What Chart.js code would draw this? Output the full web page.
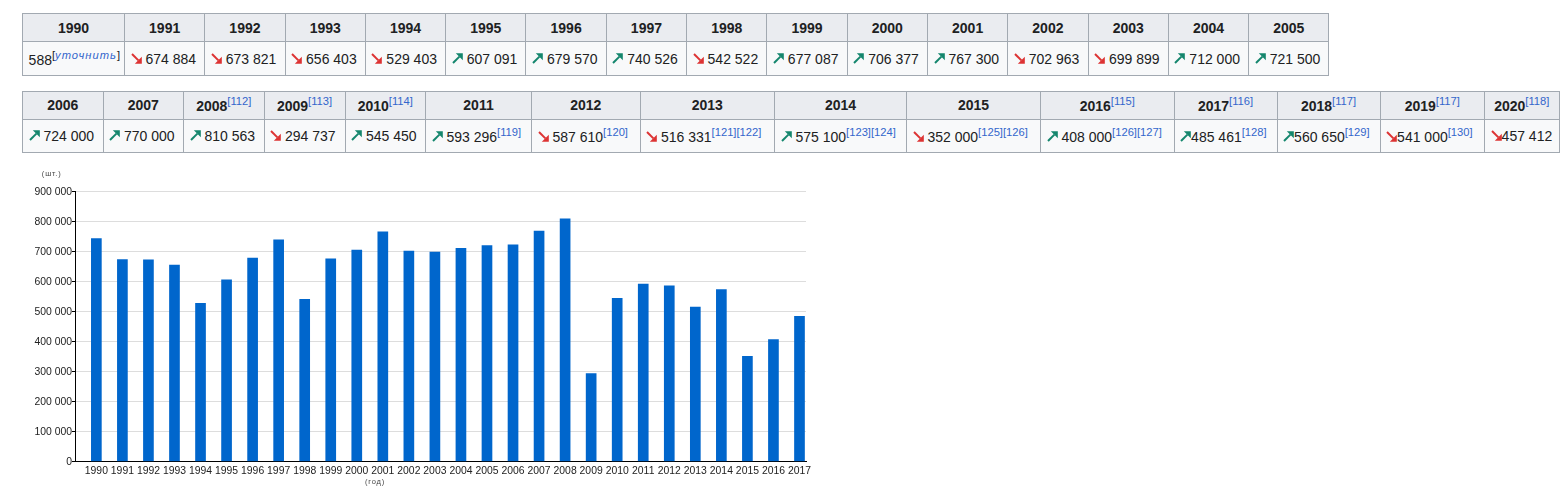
<!DOCTYPE html>
<html>
<head>
<meta charset="utf-8">
<script src="https://cdn.jsdelivr.net/npm/chart.js@4.4.1/dist/chart.umd.min.js"></script>
<style>
html,body{margin:0;padding:0;background:#fff;width:1560px;height:492px;overflow:hidden;}
body{font-family:"Liberation Sans",Arial,sans-serif;font-size:14px;color:#202122;position:relative;}
table.wt{position:absolute;left:22px;border-collapse:collapse;table-layout:fixed;background:#f8f9fa;border:1px solid #a2a9b1;}
table.wt th,table.wt td{border:1px solid #a2a9b1;padding:0 5.6px;white-space:nowrap;overflow:hidden;box-sizing:border-box;}
table.wt th{background:#eaecf0;font-weight:bold;text-align:center;height:28.4px;color:#202122;}
table.wt td{height:33.3px;text-align:left;color:#202122;}
#t1{top:13px;width:1306.5px;}
#t2{top:90.5px;width:1536.5px;}
#t1 th{width:80.3px;}
#t1 th:nth-child(1){width:102px;}
#t2 th:nth-child(1),#t2 th:nth-child(2),#t2 th:nth-child(3),#t2 th:nth-child(5){width:80.5px;}
#t2 th:nth-child(4){width:81px;}
#t2 th:nth-child(6){width:106px;}
#t2 th:nth-child(7){width:108.5px;}
#t2 th:nth-child(8){width:134.5px;}
#t2 th:nth-child(9){width:132px;}
#t2 th:nth-child(10){width:134px;}
#t2 th:nth-child(11){width:133.5px;}
#t2 th:nth-child(12),#t2 th:nth-child(13){width:103px;}
#t2 th:nth-child(14){width:104.5px;}
#t2 th:nth-child(15){width:74.5px;}
sup{font-size:80%;line-height:1;vertical-align:super;font-weight:normal;}
sup a{color:#3366cc;text-decoration:none;}
sup.fix i{color:#3366cc;letter-spacing:1px;}
svg.ar{width:11px;height:11px;vertical-align:0;}
#chartBox{position:absolute;left:0;top:160px;width:830px;height:332px;}
</style>
</head>
<body>
<table class="wt" id="t1"><tr id="t1h"></tr><tr id="t1d"></tr></table>
<table class="wt" id="t2"><tr id="t2h"></tr><tr id="t2d"></tr></table>
<div id="chartBox"><canvas id="c" width="830" height="332"></canvas></div>
<script>
// ---------- table data ----------
const tableYears = [1990,1991,1992,1993,1994,1995,1996,1997,1998,1999,2000,2001,2002,2003,2004,2005,
                    2006,2007,2008,2009,2010,2011,2012,2013,2014,2015,2016,2017,2018,2019,2020];
const tableValues = [588,674884,673821,656403,529403,607091,679570,740526,542522,677087,706377,767300,702963,699899,712000,721500,
                     724000,770000,810563,294737,545450,593296,587610,516331,575100,352000,408000,485461,560650,541000,457412];
const tableTrend = ['','down','down','down','down','up','up','up','down','up','up','up','down','down','up','up',
                    'up','up','up','down','up','up','down','down','up','down','up','up','up','down','down'];
const headRefs = {2008:[112],2009:[113],2010:[114],2016:[115],2017:[116],2018:[117],2019:[117],2020:[118]};
const valueRefs = {2011:[119],2012:[120],2013:[121,122],2014:[123,124],2015:[125,126],2016:[126,127],2017:[128],2018:[129],2019:[130]};
const noSpaceYears = [2017,2018,2019,2020];
const firstRowCount = 16;

// ---------- chart data ----------
const chartYears = [1990,1991,1992,1993,1994,1995,1996,1997,1998,1999,2000,2001,2002,2003,
                    2004,2005,2006,2007,2008,2009,2010,2011,2012,2013,2014,2015,2016,2017];
const chartValues = [745000,674884,673821,656403,529403,607091,679570,740526,542522,677087,706377,767300,702963,699899,
                     712000,721500,724000,770000,810563,294737,545450,593296,587610,516331,575100,352000,408000,485461];
const yMin = 0, yMax = 900000, yStep = 100000;
const unitY = '(шт.)';
const unitX = '(год)';

function fmt(v){ return String(v).replace(/\B(?=(\d{3})+(?!\d))/g,' '); }
function refs(list){ return list ? list.map(r=>'<sup><a>['+r+']</a></sup>').join('') : ''; }
function arrow(dir){
  if(dir==='down') return '<svg class="ar" viewBox="0 0 11 11"><path d="M1 1 L7.4 7.4" stroke="#dd3333" stroke-width="2" fill="none"/><polygon points="10.8,3.8 10.8,10.8 3.8,10.8" fill="#dd3333"/></svg>';
  if(dir==='up') return '<svg class="ar" viewBox="0 0 11 11"><path d="M1 10 L7.4 3.6" stroke="#14866d" stroke-width="2" fill="none"/><polygon points="3.8,0.2 10.8,0.2 10.8,7.2" fill="#14866d"/></svg>';
  return '';
}
function buildRow(hId,dId,from,to){
  let h='',d='';
  for(let i=from;i<to;i++){
    const y=tableYears[i];
    h+='<th>'+y+refs(headRefs[y])+'</th>';
    let cell;
    if(i===0){
      cell=fmt(tableValues[i])+'<sup class="fix">[<i>уточнить</i>]</sup>';
    } else {
      cell=arrow(tableTrend[i])+(noSpaceYears.includes(y)?'':' ')+fmt(tableValues[i])+refs(valueRefs[y]);
    }
    d+='<td>'+cell+'</td>';
  }
  document.getElementById(hId).innerHTML=h;
  document.getElementById(dId).innerHTML=d;
}
buildRow('t1h','t1d',0,firstRowCount);
buildRow('t2h','t2d',firstRowCount,tableYears.length);

// ---------- chart ----------
const unitLabels = {
  id:'unitLabels',
  afterDraw(chart){
    const {ctx,chartArea:a}=chart;
    ctx.save();
    ctx.font='7.5px "Liberation Sans", Arial, sans-serif';
    ctx.fillStyle='#444';
    ctx.textAlign='center';
    ctx.textBaseline='middle';
    try{ctx.letterSpacing='0.8px';}catch(e){}
    ctx.fillText(unitY, a.left-23.3, a.top-17.7);
    ctx.fillText(unitX, a.left+300, a.bottom+20.3);
    ctx.restore();
  }
};
const tickFont = {family:'"Liberation Sans", Arial, sans-serif', size:10.4};
new Chart(document.getElementById('c'),{
  type:'bar',
  data:{datasets:[{
    data:chartYears.map((y,i)=>({x:y,y:chartValues[i]})),
    backgroundColor:'#0066cc',
    borderWidth:0,
    barPercentage:0.41,
    categoryPercentage:1
  }]},
  options:{
    responsive:false,
    animation:false,
    layout:{padding:{left:0,right:24,top:31.7,bottom:0}},
    plugins:{legend:{display:false},tooltip:{enabled:false},title:{display:false}},
    scales:{
      x:{
        type:'linear',min:1989.18,max:2017.25,offset:false,
        grid:{display:false,drawTicks:false,offset:false},
        border:{display:true,color:'#000',width:1},
        ticks:{autoSkip:false,maxRotation:0,minRotation:0,padding:3,color:'#222',font:tickFont,
               callback:v=>String(v)},
        afterBuildTicks:s=>{ s.ticks=chartYears.map(v=>({value:v})); },
        afterFit:s=>{ s.height=30.3; }
      },
      y:{
        min:yMin,max:yMax,
        ticks:{stepSize:yStep,padding:0,color:'#222',font:tickFont,callback:v=>fmt(v)},
        grid:{color:c=>(c.tick&&c.tick.value===0)?'rgba(0,0,0,0)':'#dddddd',tickColor:'#000',tickLength:3,lineWidth:1},
        border:{display:true,color:'#000',width:1},
        afterFit:s=>{ s.width=75; }
      }
    }
  },
  plugins:[unitLabels]
});
</script>
</body>
</html>
